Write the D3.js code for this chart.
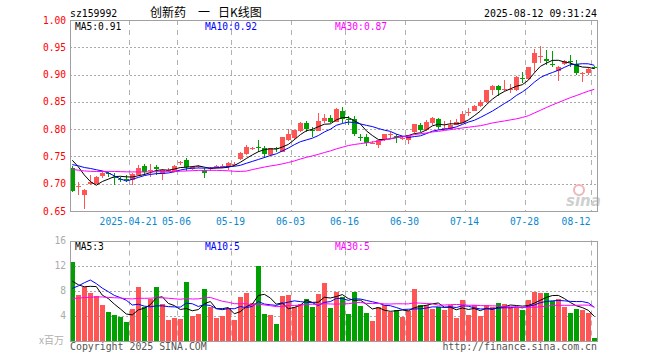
<!DOCTYPE html>
<html><head><meta charset="utf-8">
<script src="https://cdn.jsdelivr.net/npm/d3@7"></script>
<style>body{margin:0;background:#fff}svg{display:block}</style>
</head><body><svg id="c" width="660" height="360"></svg>
<script>
// ---------- data ----------
const dates = ["04-07","04-08","04-09","04-10","04-11","04-14","04-15","04-16","04-17","04-18",
"04-21","04-22","04-23","04-24","04-25","04-28","04-29","04-30","05-06","05-07",
"05-08","05-09","05-12","05-13","05-14","05-15","05-16","05-19","05-20","05-21",
"05-22","05-23","05-26","05-27","05-28","05-29","05-30","06-03","06-04","06-05",
"06-06","06-09","06-10","06-11","06-12","06-13","06-16","06-17","06-18","06-19",
"06-20","06-23","06-24","06-25","06-26","06-27","06-30","07-01","07-02","07-03",
"07-04","07-07","07-08","07-09","07-10","07-11","07-14","07-15","07-16","07-17",
"07-18","07-21","07-22","07-23","07-24","07-25","07-28","07-29","07-30","07-31",
"08-01","08-04","08-05","08-06","08-07","08-08","08-11","08-12"];
const open = [0.728,0.694,0.679,0.699,0.700,0.715,0.719,0.713,0.709,0.709,
0.706,0.716,0.732,0.724,0.731,0.718,0.723,0.724,0.738,0.743,
0.727,0.731,0.726,0.727,0.730,0.732,0.731,0.735,0.745,0.754,
0.765,0.768,0.765,0.753,0.765,0.759,0.781,0.783,0.797,0.811,
0.799,0.797,0.815,0.820,0.814,0.833,0.818,0.818,0.786,0.785,
0.774,0.771,0.780,0.790,0.788,0.782,0.780,0.794,0.808,0.798,
0.812,0.818,0.802,0.800,0.808,0.812,0.831,0.834,0.842,0.849,
0.871,0.879,0.872,0.872,0.872,0.894,0.891,0.921,0.933,0.929,
0.920,0.907,0.919,0.925,0.919,0.902,0.903,0.914];
const high = [0.733,0.704,0.690,0.716,0.714,0.724,0.721,0.719,0.713,0.716,
0.719,0.734,0.737,0.736,0.734,0.727,0.729,0.734,0.741,0.748,
0.733,0.735,0.728,0.731,0.735,0.736,0.740,0.739,0.759,0.771,
0.768,0.780,0.770,0.766,0.768,0.786,0.800,0.799,0.813,0.815,
0.804,0.829,0.827,0.826,0.838,0.840,0.824,0.824,0.791,0.791,
0.778,0.781,0.792,0.795,0.792,0.786,0.790,0.810,0.812,0.816,
0.823,0.820,0.815,0.816,0.818,0.834,0.838,0.844,0.853,0.872,
0.881,0.880,0.890,0.882,0.897,0.904,0.914,0.947,0.952,0.945,
0.943,0.916,0.927,0.936,0.927,0.904,0.913,0.916];
const low = [0.685,0.679,0.654,0.697,0.699,0.711,0.712,0.698,0.704,0.704,
0.698,0.715,0.716,0.713,0.716,0.707,0.721,0.722,0.735,0.723,
0.725,0.728,0.711,0.724,0.728,0.729,0.726,0.732,0.743,0.752,
0.762,0.759,0.748,0.751,0.759,0.758,0.779,0.781,0.795,0.794,
0.786,0.796,0.811,0.811,0.813,0.811,0.808,0.787,0.779,0.769,
0.772,0.765,0.779,0.783,0.775,0.780,0.773,0.793,0.795,0.797,
0.808,0.801,0.798,0.799,0.807,0.811,0.824,0.833,0.841,0.848,
0.862,0.860,0.870,0.866,0.870,0.884,0.890,0.905,0.921,0.918,
0.914,0.889,0.917,0.913,0.899,0.887,0.899,0.911];
const close = [0.686,0.695,0.688,0.704,0.713,0.720,0.717,0.711,0.707,0.708,
0.718,0.729,0.722,0.725,0.727,0.725,0.725,0.732,0.739,0.730,
0.731,0.732,0.720,0.728,0.732,0.733,0.738,0.736,0.757,0.767,
0.766,0.767,0.755,0.765,0.764,0.785,0.791,0.798,0.811,0.800,
0.798,0.815,0.821,0.814,0.837,0.818,0.817,0.791,0.785,0.774,
0.775,0.780,0.791,0.791,0.787,0.783,0.789,0.809,0.798,0.814,
0.820,0.804,0.803,0.808,0.813,0.828,0.832,0.842,0.850,0.871,
0.879,0.872,0.873,0.874,0.895,0.893,0.913,0.940,0.934,0.924,
0.919,0.914,0.925,0.924,0.903,0.903,0.911,0.913];
const volume = [12.6,7.3,8.5,7.65,7.1,5.7,4.6,4.1,3.8,3.0,
5.0,8.6,5.4,6.6,8.6,5.8,3.3,3.65,3.45,9.4,
4.0,4.25,8.25,5.3,3.65,4.0,5.15,3.3,7.0,7.65,
6.05,12.0,4.25,4.1,2.65,7.1,7.3,5.3,5.85,6.65,
5.4,7.45,9.25,5.25,7.8,7.0,4.25,7.8,5.5,4.45,
3.2,5.4,5.7,4.6,4.9,3.8,4.7,8.25,5.7,5.7,
5.05,5.3,4.9,5.7,3.65,6.5,4.1,5.7,3.9,5.7,
5.4,6.05,5.85,5.4,5.3,4.9,6.5,7.8,7.65,7.65,
6.35,6.65,5.3,4.45,5.05,4.9,4.45,0.45];
// sessions before the visible window (only feed the moving averages)
const priorClose = [0.735,0.730,0.726,0.722,0.718,0.715,0.712,0.716,0.720,0.724,
0.728,0.725,0.721,0.718,0.722,0.726,0.724,0.720,0.718,0.715,
0.716,0.720,0.721,0.737,0.741,0.755,0.763,0.764,0.747];
const priorVolume = [6.5,5.8,6.2,5.4,5.9,6.8,5.5,5.2,6.0,6.4,
5.7,5.3,6.1,6.6,5.8,5.5,6.2,5.9,5.6,6.6,
3.5,3.4,3.3,12.8,13.0,10.2,10.1,7.3,7.3];
const priceTicks = [0.65,0.70,0.75,0.80,0.85,0.90,0.95,1.00];
const volTicks = [4,8,12,16];
const dateLabels = ["04-21","05-06","05-19","06-03","06-16","06-30","07-14","07-28","08-12"];
const maPeriods = [5,10,30];
const maColors = ["#000000","#0000ff","#ff00ff"];

// ---------- helpers ----------
function movingAvg(series, prior, n){
  const all = prior.concat(series);
  return series.map((_, i) => { const j = i + prior.length; return d3.mean(all.slice(j-n+1, j+1)); });
}
const idx = d3.range(dates.length);
const L = 70, R = 597, PT = 20, PB = 211, VT = 240.5, VB = 340.5;
const mono = "'DejaVu Sans Mono', monospace";

const x = d3.scaleBand().domain(idx).range([69.3, 597.3]);
const xc = i => x(i) + x.bandwidth()/2;
const y = d3.scaleLinear().domain([0.65, 1.00]).range([PB, PT]);
const yv = d3.scaleLinear().domain([0, 16]).range([VB, VT]);

const svg = d3.select("#c");
svg.append("rect").attr("width",660).attr("height",360).attr("fill","#fff");

const RED = "#ff5555", GREEN = "#00a000";
const up = i => close[i] >= open[i];

// ---------- header ----------
svg.append("text").attr("x",70).attr("y",16.5).attr("font-family",mono).attr("font-size",9.8)
  .attr("fill","#000").text("sz159992");
const title = svg.append("text").attr("y",17).attr("font-family","'Noto Sans CJK SC', sans-serif")
  .attr("font-size",12).attr("fill","#000");
title.append("tspan").attr("x",150).text("创新药");
title.append("tspan").attr("x",198).text("一");
title.append("tspan").attr("x",218).text("日K线图");
svg.append("text").attr("x",597).attr("y",16.5).attr("text-anchor","end").attr("font-family",mono)
  .attr("font-size",9.9).attr("fill","#000").text("2025-08-12 09:31:24");

// ---------- grids ----------
const gridX = dateLabels.map(d => Math.round(x(dates.indexOf(d))) + 0.5);
function vgrid(top, bottom){
  svg.append("g").selectAll("line").data(gridX).join("line")
    .attr("x1",d=>d).attr("x2",d=>d).attr("y1",top).attr("y2",bottom)
    .attr("stroke","#b0b0b0").attr("stroke-width",1).attr("stroke-dasharray","5,5");
}
vgrid(PT, PB); vgrid(VT, VB);
svg.append("g").selectAll("line").data(priceTicks.slice(1,-1)).join("line")
  .attr("x1",L).attr("x2",R).attr("y1",d=>Math.round(y(d))+0.5).attr("y2",d=>Math.round(y(d))+0.5)
  .attr("stroke","#aaaaaa").attr("stroke-dasharray","2,2");
svg.append("g").selectAll("line").data(volTicks.slice(0,-1)).join("line")
  .attr("x1",L).attr("x2",R).attr("y1",d=>Math.round(yv(d))+0.5).attr("y2",d=>Math.round(yv(d))+0.5)
  .attr("stroke","#aaaaaa").attr("stroke-dasharray","2,2");

// watermark
svg.append("circle").attr("cx",579).attr("cy",190).attr("r",5).attr("fill","none")
  .attr("stroke","#f2b4b4").attr("stroke-width",2);
svg.append("text").attr("x",566).attr("y",206).attr("font-family","'DejaVu Sans', sans-serif")
  .attr("font-size",15).attr("font-style","italic").attr("font-weight","bold").attr("fill","#cfcfcf").text("sina");

// ---------- candles ----------
const cg = svg.append("g").attr("shape-rendering","crispEdges");
cg.selectAll("line").data(idx).join("line")
  .attr("x1",i=>Math.round(xc(i))+0.5).attr("x2",i=>Math.round(xc(i))+0.5)
  .attr("y1",i=>y(high[i])).attr("y2",i=>y(low[i]))
  .attr("stroke",i=>up(i)?RED:GREEN);
cg.selectAll("rect").data(idx).join("rect")
  .attr("x",i=>Math.round(xc(i))-2).attr("width",5)
  .attr("y",i=>y(Math.max(open[i],close[i])))
  .attr("height",i=>Math.max(1, y(Math.min(open[i],close[i])) - y(Math.max(open[i],close[i]))))
  .attr("fill",i=>up(i)?RED:GREEN);

// price MAs
const priceMA = maPeriods.map(n => movingAvg(close, priorClose, n));
priceMA.forEach((m, k) => {
  svg.append("path").datum(idx).attr("fill","none").attr("stroke",maColors[k]).attr("stroke-width",1)
    .attr("d", d3.line().x(i=>xc(i)).y(i=>y(m[i]))(idx));
});

// ---------- volume ----------
svg.append("g").attr("shape-rendering","crispEdges").selectAll("rect").data(idx).join("rect")
  .attr("x",i=>Math.round(xc(i))-2).attr("width",5)
  .attr("y",i=>yv(volume[i])).attr("height",i=>VB - yv(volume[i]))
  .attr("fill",i=>up(i)?RED:GREEN);
const volMA = maPeriods.map(n => movingAvg(volume, priorVolume, n));
volMA.forEach((m, k) => {
  svg.append("path").attr("fill","none").attr("stroke",maColors[k]).attr("stroke-width",1)
    .attr("d", d3.line().x(i=>xc(i)).y(i=>yv(m[i]))(idx));
});

// ---------- frames ----------
[[PT,PB],[VT,VB]].forEach(([t,b]) => {
  svg.append("rect").attr("x",L+0.5).attr("y",Math.round(t)+0.5).attr("width",R-L-0.5).attr("height",Math.round(b)-Math.round(t))
    .attr("fill","none").attr("stroke","#a0a0a0").attr("stroke-width",1).attr("shape-rendering","crispEdges");
});

// ---------- axes ----------
const ay = svg.append("g").attr("transform",`translate(${L},0)`)
  .call(d3.axisLeft(y).tickValues(priceTicks).tickSize(0).tickPadding(4).tickFormat(d3.format(".2f")));
ay.select(".domain").remove();
ay.selectAll("text").attr("font-family",mono).attr("font-size",9.6).attr("fill","#ff0000");

const av = svg.append("g").attr("transform",`translate(${L},0)`)
  .call(d3.axisLeft(yv).tickValues(volTicks).tickSize(0).tickPadding(4));
av.select(".domain").remove();
av.selectAll("text").attr("font-family",mono).attr("font-size",9.6).attr("fill","#aaaaaa");
svg.append("text").attr("x",64).attr("y",344).attr("text-anchor","end")
  .attr("font-family","'Noto Sans CJK SC', sans-serif").attr("font-size",10).attr("fill","#b0b0b0").text("x百万");

svg.append("g").selectAll("text").data(dateLabels).join("text")
  .attr("x",(d,k)=> k === dateLabels.length-1 ? gridX[k]-1 : gridX[k]-1)
  .attr("text-anchor",(d,k)=> k === dateLabels.length-1 ? "end" : "middle")
  .attr("y",225).attr("font-family",mono).attr("font-size",9.6).attr("fill","#0a88d0")
  .text((d,k)=> k===0 ? "2025-"+d : d);

// ---------- MA labels ----------
const labX = [75, 205, 335];
maPeriods.forEach((n,k) => {
  svg.append("text").attr("x",labX[k]).attr("y",29.5).attr("font-family",mono).attr("font-size",9.6)
    .attr("fill",maColors[k]).text(`MA${n}:${priceMA[k][idx.length-1].toFixed(2)}`);
  svg.append("text").attr("x",labX[k]).attr("y",249.5).attr("font-family",mono).attr("font-size",9.6)
    .attr("fill",maColors[k]).text(`MA${n}:${Math.floor(volMA[k][idx.length-1])}`);
});

// ---------- footer ----------
svg.append("text").attr("x",70).attr("y",350).attr("font-family",mono).attr("font-size",9.9)
  .attr("fill","#555").text("Copyright 2025 SINA.COM");
svg.append("text").attr("x",597).attr("y",350).attr("text-anchor","end").attr("font-family",mono).attr("font-size",9.9)
  .attr("fill","#555").text("http://finance.sina.com.cn");
</script></body></html>
